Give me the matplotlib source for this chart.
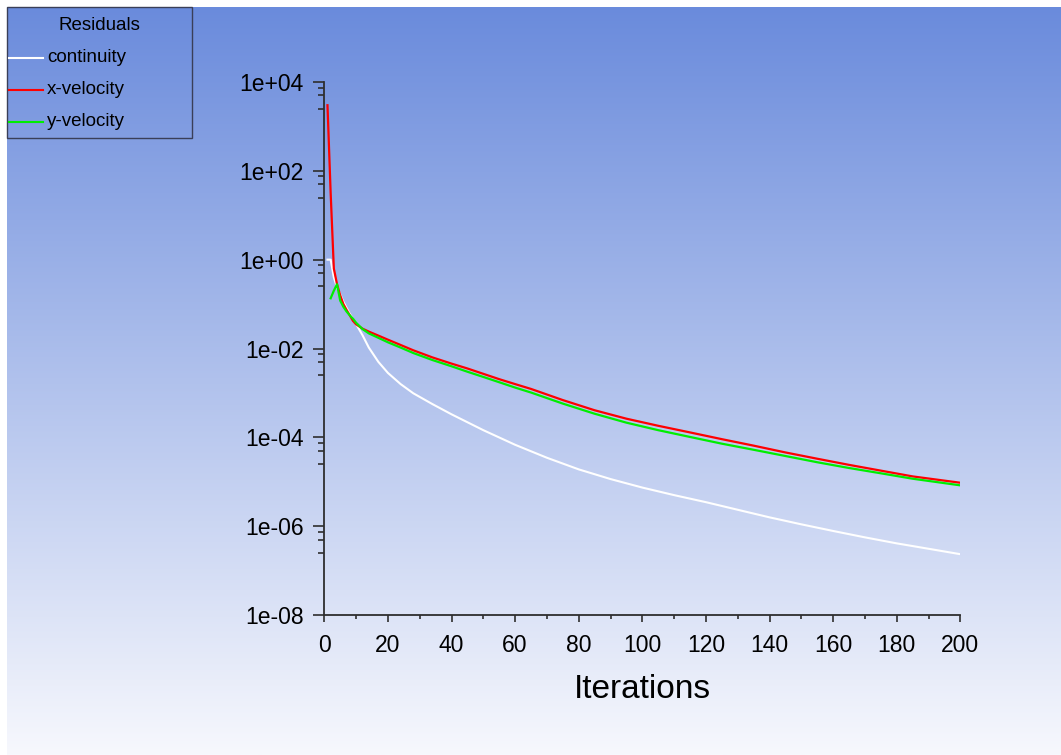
import matplotlib
matplotlib.use("Agg")
import matplotlib.pyplot as plt
import numpy as np
from matplotlib.ticker import FixedLocator, FuncFormatter, NullFormatter
from matplotlib.patches import Rectangle
from matplotlib.lines import Line2D

plt.rcParams['font.family'] = ['Liberation Sans', 'DejaVu Sans']

# ---------------- data ----------------
iter_continuity = [1, 2, 3, 4, 5, 6, 8, 10, 12, 14, 17, 20, 24, 28, 34, 40, 50, 60, 70, 80,
                   90, 100, 110, 120, 130, 140, 150, 160, 170, 180, 190, 200]
continuity = [1.0, 1.0, 0.398, 0.240, 0.166, 0.112, 0.0603, 0.0355, 0.0200, 0.0105, 5.0e-3,
              2.82e-3, 1.58e-3, 9.8e-4, 5.6e-4, 3.3e-4, 1.45e-4, 6.8e-5, 3.47e-5, 1.9e-5,
              1.15e-5, 7.4e-6, 5.0e-6, 3.47e-6, 2.34e-6, 1.58e-6, 1.10e-6, 7.8e-7, 5.6e-7,
              4.1e-7, 3.1e-7, 2.34e-7]

iter_xvel = [1, 2, 3, 4, 5, 6, 7, 8, 9, 10, 12, 14, 17, 20, 24, 28, 34, 40, 45, 50, 55, 60,
             65, 75, 85, 95, 105, 115, 125, 135, 145, 155, 165, 175, 185, 200]
x_velocity = [3.0e3, 31.6, 0.63, 0.28, 0.158, 0.100, 0.074, 0.056, 0.042, 0.035, 0.028,
              0.0240, 0.0195, 0.0158, 0.0120, 9.1e-3, 6.3e-3, 4.57e-3, 3.55e-3, 2.69e-3,
              2.04e-3, 1.58e-3, 1.23e-3, 6.9e-4, 4.07e-4, 2.63e-4, 1.82e-4, 1.29e-4, 9.1e-5,
              6.5e-5, 4.57e-5, 3.3e-5, 2.4e-5, 1.78e-5, 1.32e-5, 9.5e-6]

iter_yvel = [2, 3, 4, 5, 6, 7, 8, 9, 10, 12, 14, 17, 20, 24, 28, 34, 40, 45, 50, 55, 60,
             65, 75, 85, 95, 105, 115, 125, 135, 145, 155, 165, 175, 185, 200]
y_velocity = [0.135, 0.20, 0.28, 0.12, 0.087, 0.068, 0.056, 0.047, 0.038, 0.0275, 0.0219,
              0.0174, 0.0138, 0.0105, 7.9e-3, 5.5e-3, 3.98e-3, 3.0e-3, 2.29e-3, 1.74e-3,
              1.32e-3, 1.02e-3, 5.75e-4, 3.4e-4, 2.14e-4, 1.45e-4, 1.02e-4, 7.2e-5, 5.25e-5,
              3.8e-5, 2.75e-5, 2.04e-5, 1.55e-5, 1.17e-5, 8.3e-6]

series_names = ['continuity', 'x-velocity', 'y-velocity']
series_colors = ['#ffffff', '#ff0000', '#00ee00']
y_major = [1e-8, 1e-6, 1e-4, 1e-2, 1e0, 1e2, 1e4]
x_major = list(range(0, 201, 20))
x_minor = list(range(10, 200, 20))
xlabel = 'Iterations'
legend_title = 'Residuals'

# ---------------- figure ----------------
W, H = 1061, 755
fig = plt.figure(figsize=(W / 100, H / 100), dpi=100)
fig.patch.set_facecolor('white')


def fx(px):
    return px / W


def fy(py):
    return 1 - py / H


# gradient background
bg = fig.add_axes([fx(7), 0, 1 - fx(7), fy(7)])
top = np.array([106, 139, 220]) / 255
bot = np.array([247, 248, 253]) / 255
t = np.linspace(0, 1, 512)[:, None]
grad = (top + (bot - top) * t)[:, None, :]
bg.imshow(grad, aspect='auto', extent=[0, 1, 0, 1], interpolation='bilinear')
bg.axis('off')

ax = fig.add_axes([fx(324.3), fy(615), fx(960.3) - fx(324.3), fy(82) - fy(615)])
ax.patch.set_alpha(0)
ax.set_yscale('log')
ax.set_xlim(0, 200)
ax.set_ylim(1e-8, 1e4)

for s in ['top', 'right']:
    ax.spines[s].set_visible(False)
for s in ['left', 'bottom']:
    ax.spines[s].set_color('#2e2e2e')
    ax.spines[s].set_linewidth(1.3)

ax.yaxis.set_major_locator(FixedLocator(y_major))
ax.yaxis.set_minor_locator(FixedLocator([m * f for m in y_major for f in (0.75, 0.5, 0.25)]))
ax.yaxis.set_major_formatter(FuncFormatter(lambda v, p: f"{v:.0e}"))
ax.yaxis.set_minor_formatter(NullFormatter())
ax.xaxis.set_major_locator(FixedLocator(x_major))
ax.xaxis.set_minor_locator(FixedLocator(x_minor))

ax.tick_params(axis='y', which='major', direction='out', length=11 * 0.72, width=1.2,
               color='#2e2e2e', labelsize=16.5, pad=7)
ax.tick_params(axis='y', which='minor', direction='out', length=6 * 0.72, width=1.2,
               color='#2e2e2e')
ax.tick_params(axis='x', which='major', direction='out', length=7 * 0.72, width=1.2,
               color='#2e2e2e', labelsize=16.5, pad=9)
ax.tick_params(axis='x', which='minor', direction='out', length=4 * 0.72, width=1.2,
               color='#2e2e2e')

ax.plot(iter_continuity, continuity, color=series_colors[0], lw=1.5)
ax.plot(iter_xvel, x_velocity, color=series_colors[1], lw=1.6)
ax.plot(iter_yvel, y_velocity, color=series_colors[2], lw=1.6)

fig.text(fx(642), fy(690), xlabel, ha='center', va='center', fontsize=24)

# legend box
fig.add_artist(Rectangle((fx(7.3), fy(138.3)), fx(191.7) - fx(7.3), fy(6.7) - fy(138.3),
                         transform=fig.transFigure, facecolor='none',
                         edgecolor='#3a3f58', lw=1.0))
fig.text(fx(99), fy(25.5), legend_title, ha='center', va='center', fontsize=13.5)
rows = [58, 89.5, 121.5]
for name, col, ry in zip(series_names, series_colors, rows):
    fig.add_artist(Line2D([fx(9), fx(43)], [fy(ry), fy(ry)], transform=fig.transFigure,
                          color=col, lw=1.5))
    fig.text(fx(47), fy(ry), name, ha='left', va='center', fontsize=13.5)

fig.savefig('out.png', dpi=100)
